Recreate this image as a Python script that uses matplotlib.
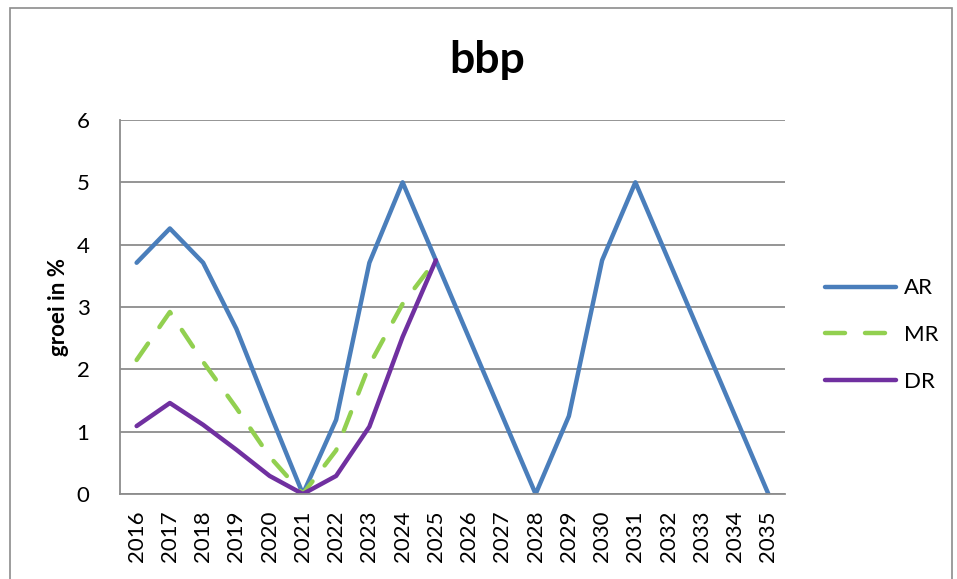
import matplotlib.pyplot as plt
from matplotlib.patches import Rectangle

# data
years = [str(y) for y in range(2016, 2036)]
ar = [3.71, 4.26, 3.71, 2.65, 1.31, 0.0, 1.19, 3.71, 5.0, 3.75,
      2.5, 1.25, 0.0, 1.25, 3.75, 5.0, 3.75, 2.5, 1.25, 0.0]
mr = [2.15, 2.92, 2.12, 1.38, 0.6, 0.0, 0.7, 2.07, 3.05, 3.75]
dr = [1.09, 1.46, 1.11, 0.71, 0.29, 0.0, 0.29, 1.08, 2.52, 3.75]

plt.rcParams['font.family'] = ['Lato', 'DejaVu Sans']

fig = plt.figure(figsize=(9.57, 5.79), dpi=100)
ax = fig.add_axes([120/957, 85/579, 665/957, 374/579])

#outer chart border
fig.patches.append(Rectangle((10/957, -0.05), 942/957, 1.05 - 8/579,
                             transform=fig.transFigure, fill=False,
                             edgecolor='#8c8c8c', linewidth=1.2))

x = list(range(len(years)))
ax.plot(x, ar, color='#4A7EBB', linewidth=3.2, label='AR', solid_capstyle='round')
ax.plot(x[:len(mr)], mr, color='#92D050', linewidth=3.2, label='MR',
        dashes=(4.5, 4.5), dash_capstyle='round')
ax.plot(x[:len(dr)], dr, color='#7030A0', linewidth=3.2, label='DR', solid_capstyle='round')

ax.set_xlim(-0.5, len(years) - 0.5)
ax.set_ylim(0, 6)
ax.set_yticks(range(0, 7))
ax.set_xticks(x)
ax.set_xticklabels(years, rotation=90, fontsize=16)
ax.tick_params(axis='y', labelsize=16, length=0, pad=22)
ax.tick_params(axis='x', length=0, pad=12)
ax.yaxis.grid(True, color='#8c8c8c', linewidth=1.3)
ax.set_axisbelow(True)
for side in ['top', 'right']:
    ax.spines[side].set_visible(False)
for side in ['left', 'bottom']:
    ax.spines[side].set_color('#8c8c8c')
    ax.spines[side].set_linewidth(1.3)

ax.set_ylabel('groei in %', fontsize=16, fontweight='bold', labelpad=5)
fig.text(487/957, 1 - 60/579, 'bbp', fontsize=32, fontweight='bold',
         ha='center', va='center')

ax.legend(loc='center left', bbox_to_anchor=(825/957, 1 - 335/579),
          bbox_transform=fig.transFigure, frameon=False, fontsize=16,
          handlelength=3.2, handletextpad=0.35, labelspacing=1.2,
          borderaxespad=0, borderpad=0)

fig.savefig('out.png', dpi=100)
